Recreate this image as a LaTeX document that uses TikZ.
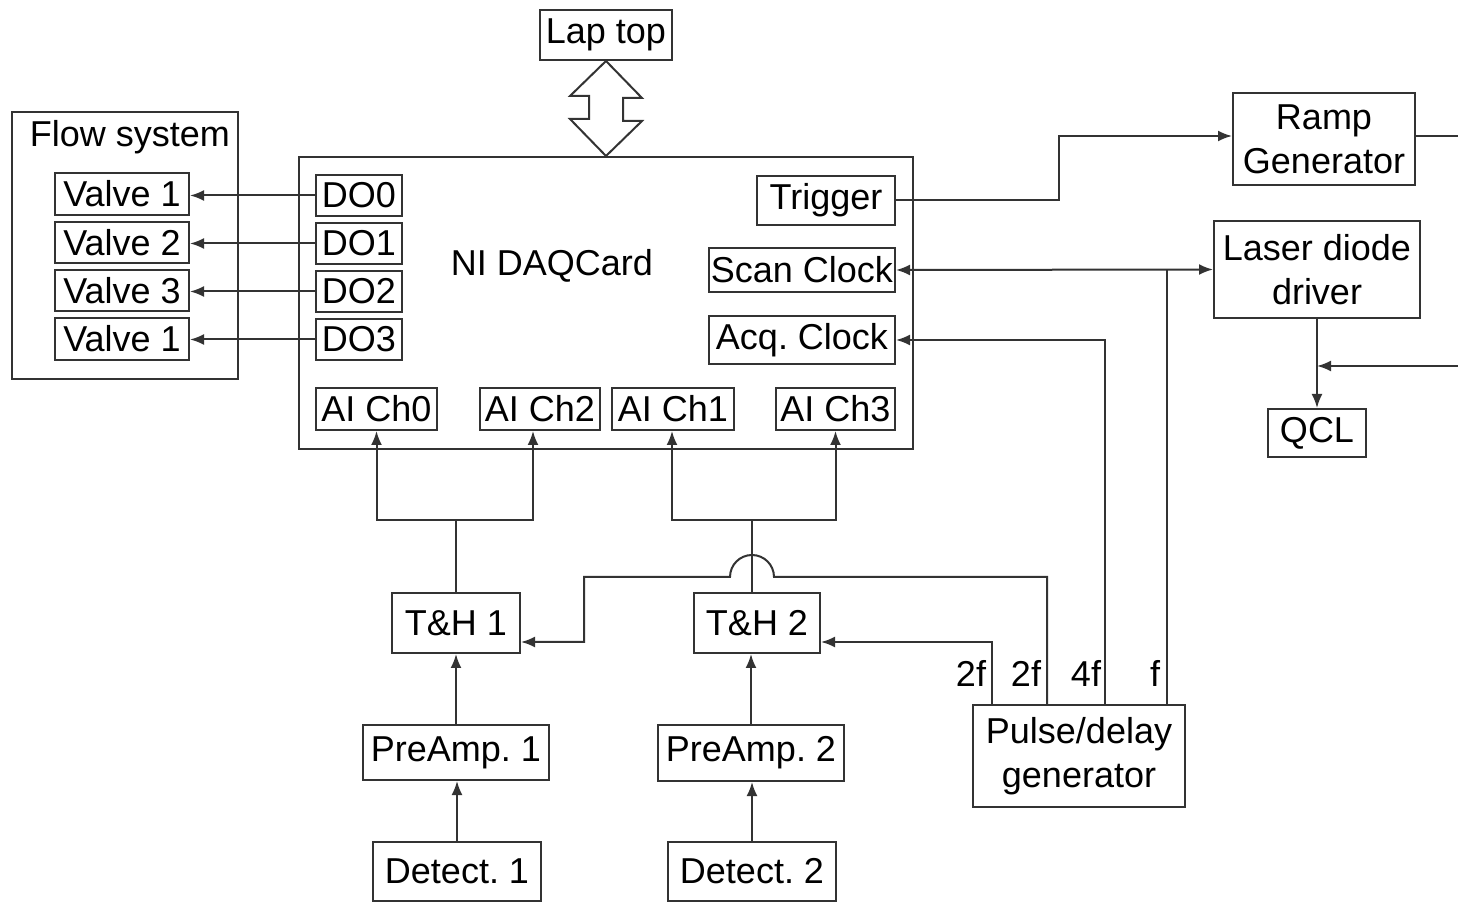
\documentclass[tikz,border=0pt]{standalone}
\usepackage{fontspec}
\setmainfont{Liberation Sans}
\usetikzlibrary{arrows.meta,positioning,calc}
\frenchspacing

\begin{document}
\begin{tikzpicture}[
  x=0.5pt, y=-0.5pt,
  font=\fontsize{18}{22}\selectfont,
  box/.style={draw=black!80, line width=1pt, inner sep=1pt, align=center},
  arr/.style={-{Latex[length=7pt,width=5.5pt]}, draw=black!80, line width=1pt},
  biarr/.style={{Latex[length=7pt,width=5.5pt]}-{Latex[length=7pt,width=5.5pt]}, draw=black!80, line width=1pt},
  wire/.style={draw=black!80, line width=1pt}
]
\useasboundingbox (0,0) rectangle (1458,903);

% laptop and DAQ card
\node[box, minimum width=66pt, minimum height=25pt] (lap) at (606,35) {Lap top};
\node[box, minimum width=307pt, minimum height=146pt] (daq) at (606,303) {};
\node (daqlbl) at (552,266) {NI DAQCard};
\node[box, minimum width=43pt, minimum height=20.5pt] (do0) at (359,195.5) {DO0};
\node[box, minimum width=43pt, minimum height=20.5pt] (do1) at (359,243.5) {DO1};
\node[box, minimum width=43pt, minimum height=20.5pt] (do2) at (359,291.5) {DO2};
\node[box, minimum width=43pt, minimum height=20.5pt] (do3) at (359,339.5) {DO3};
\node[box, minimum width=69pt, minimum height=24.5pt] (trig) at (826,200.5) {Trigger};
\node[box, minimum width=93pt, minimum height=22pt] (scan) at (802,270) {Scan Clock};
\node[box, minimum width=93pt, minimum height=24pt] (acq) at (802,340) {Acq. Clock};
\node[box, minimum width=60.5pt, minimum height=21pt] (ai0) at (376.5,409) {AI Ch0};
\node[box, minimum width=60pt, minimum height=21pt] (ai2) at (540,409) {AI Ch2};
\node[box, minimum width=61pt, minimum height=21pt] (ai1) at (673,409) {AI Ch1};
\node[box, minimum width=59.5pt, minimum height=21pt] (ai3) at (835.5,409) {AI Ch3};

% flow system
\node[box, minimum width=113pt, minimum height=133.5pt] (flow) at (125,245.5) {};
\node (flowlbl) at (130,137) {Flow system};
\node[box, minimum width=67pt, minimum height=21pt] (v0) at (122,194) {Valve 1};
\node[box, minimum width=67pt, minimum height=20.5pt] (v1) at (122,242.5) {Valve 2};
\node[box, minimum width=67pt, minimum height=20.5pt] (v2) at (122,290.5) {Valve 3};
\node[box, minimum width=67pt, minimum height=21pt] (v3) at (122,339) {Valve 1};

% laser side
\node[box, minimum width=91pt, minimum height=46pt] (ramp) at (1324,139) {Ramp\\Generator};
\node[box, minimum width=103pt, minimum height=48.5pt] (laser) at (1317,269.5) {Laser diode\\driver};
\node[box, minimum width=49pt, minimum height=24pt] (qcl) at (1317,433) {QCL};
\node[box, minimum width=106pt, minimum height=51pt] (pulse) at (1079,756) {Pulse/delay\\generator};

% detection chain
\node[box, minimum width=64pt, minimum height=30pt] (th1) at (456,623) {T\&H 1};
\node[box, minimum width=63pt, minimum height=30pt] (th2) at (757,623) {T\&H 2};
\node[box, minimum width=93pt, minimum height=27.5pt] (pre1) at (456,752.5) {PreAmp. 1};
\node[box, minimum width=93pt, minimum height=28pt] (pre2) at (751,753) {PreAmp. 2};
\node[box, minimum width=84pt, minimum height=29.5pt] (det1) at (457,871.5) {Detect. 1};
\node[box, minimum width=84pt, minimum height=29.5pt] (det2) at (752,871.5) {Detect. 2};

% pulse generator outputs
\node (fa) at (971,673) {2f};
\node (fb) at (1026,673) {2f};
\node (fc) at (1086,673) {4f};
\node (fd) at (1155,673) {f};

\coordinate (rampout) at (1458,136);
\coordinate (modin) at (1458,366);

% laptop <-> DAQ
\draw[wire, line join=miter] (lap.south) -- ++(36,37) -- ++(-19,0) -- ++(0,23) -- ++(19,0)
  -- (daq.north) -- ++(-36,-37) -- ++(19,0) -- ++(0,-23) -- ++(-19,0) -- cycle;

\draw[arr] (do0.west) -- (do0.west -| v0.east);
\draw[arr] (do1.west) -- (do1.west -| v1.east);
\draw[arr] (do2.west) -- (do2.west -| v2.east);
\draw[arr] (do3.west) -- (do3.west -| v3.east);

\draw[arr] (trig.east) -- ++(163,0) |- ([yshift=1.5pt]ramp.west);
\draw[wire] ([yshift=1.5pt]ramp.east) -- (rampout);
\draw[biarr] (scan.east) -- (laser.west);
\draw[arr] (laser.south) -- (qcl.north);
\draw[arr] (modin) -- (modin -| qcl.north);

\draw[wire] ([xshift=44pt]pulse.north) -- ([xshift=44pt]pulse.north |- scan.east);
\draw[arr] ([xshift=13pt]pulse.north) |- (acq.east);
\draw[arr] ([xshift=-16pt]pulse.north) |- (774,577) arc[start angle=0, end angle=180, radius=11pt]
  -- (584,577) |- ([yshift=-9.5pt]th1.east);
\draw[arr] ([xshift=-43.5pt]pulse.north) |- ([yshift=-9.5pt]th2.east);

\draw[arr] (th1.north) -- ++(0,-72) -| (ai0.south);
\draw[arr] (th1.north) -- ++(0,-72) -| ([xshift=-3.5pt]ai2.south);
\draw[arr] ([xshift=-2.5pt]th2.north) -- ++(0,-72) -| ([xshift=-0.5pt]ai1.south);
\draw[arr] ([xshift=-2.5pt]th2.north) -- ++(0,-72) -| (ai3.south);

\draw[arr] (pre1.north) -- (pre1.north |- th1.south);
\draw[arr] (pre2.north) -- (pre2.north |- th2.south);
\draw[arr] (det1.north) -- (det1.north |- pre1.south);
\draw[arr] (det2.north) -- (det2.north |- pre2.south);
\end{tikzpicture}
\end{document}
